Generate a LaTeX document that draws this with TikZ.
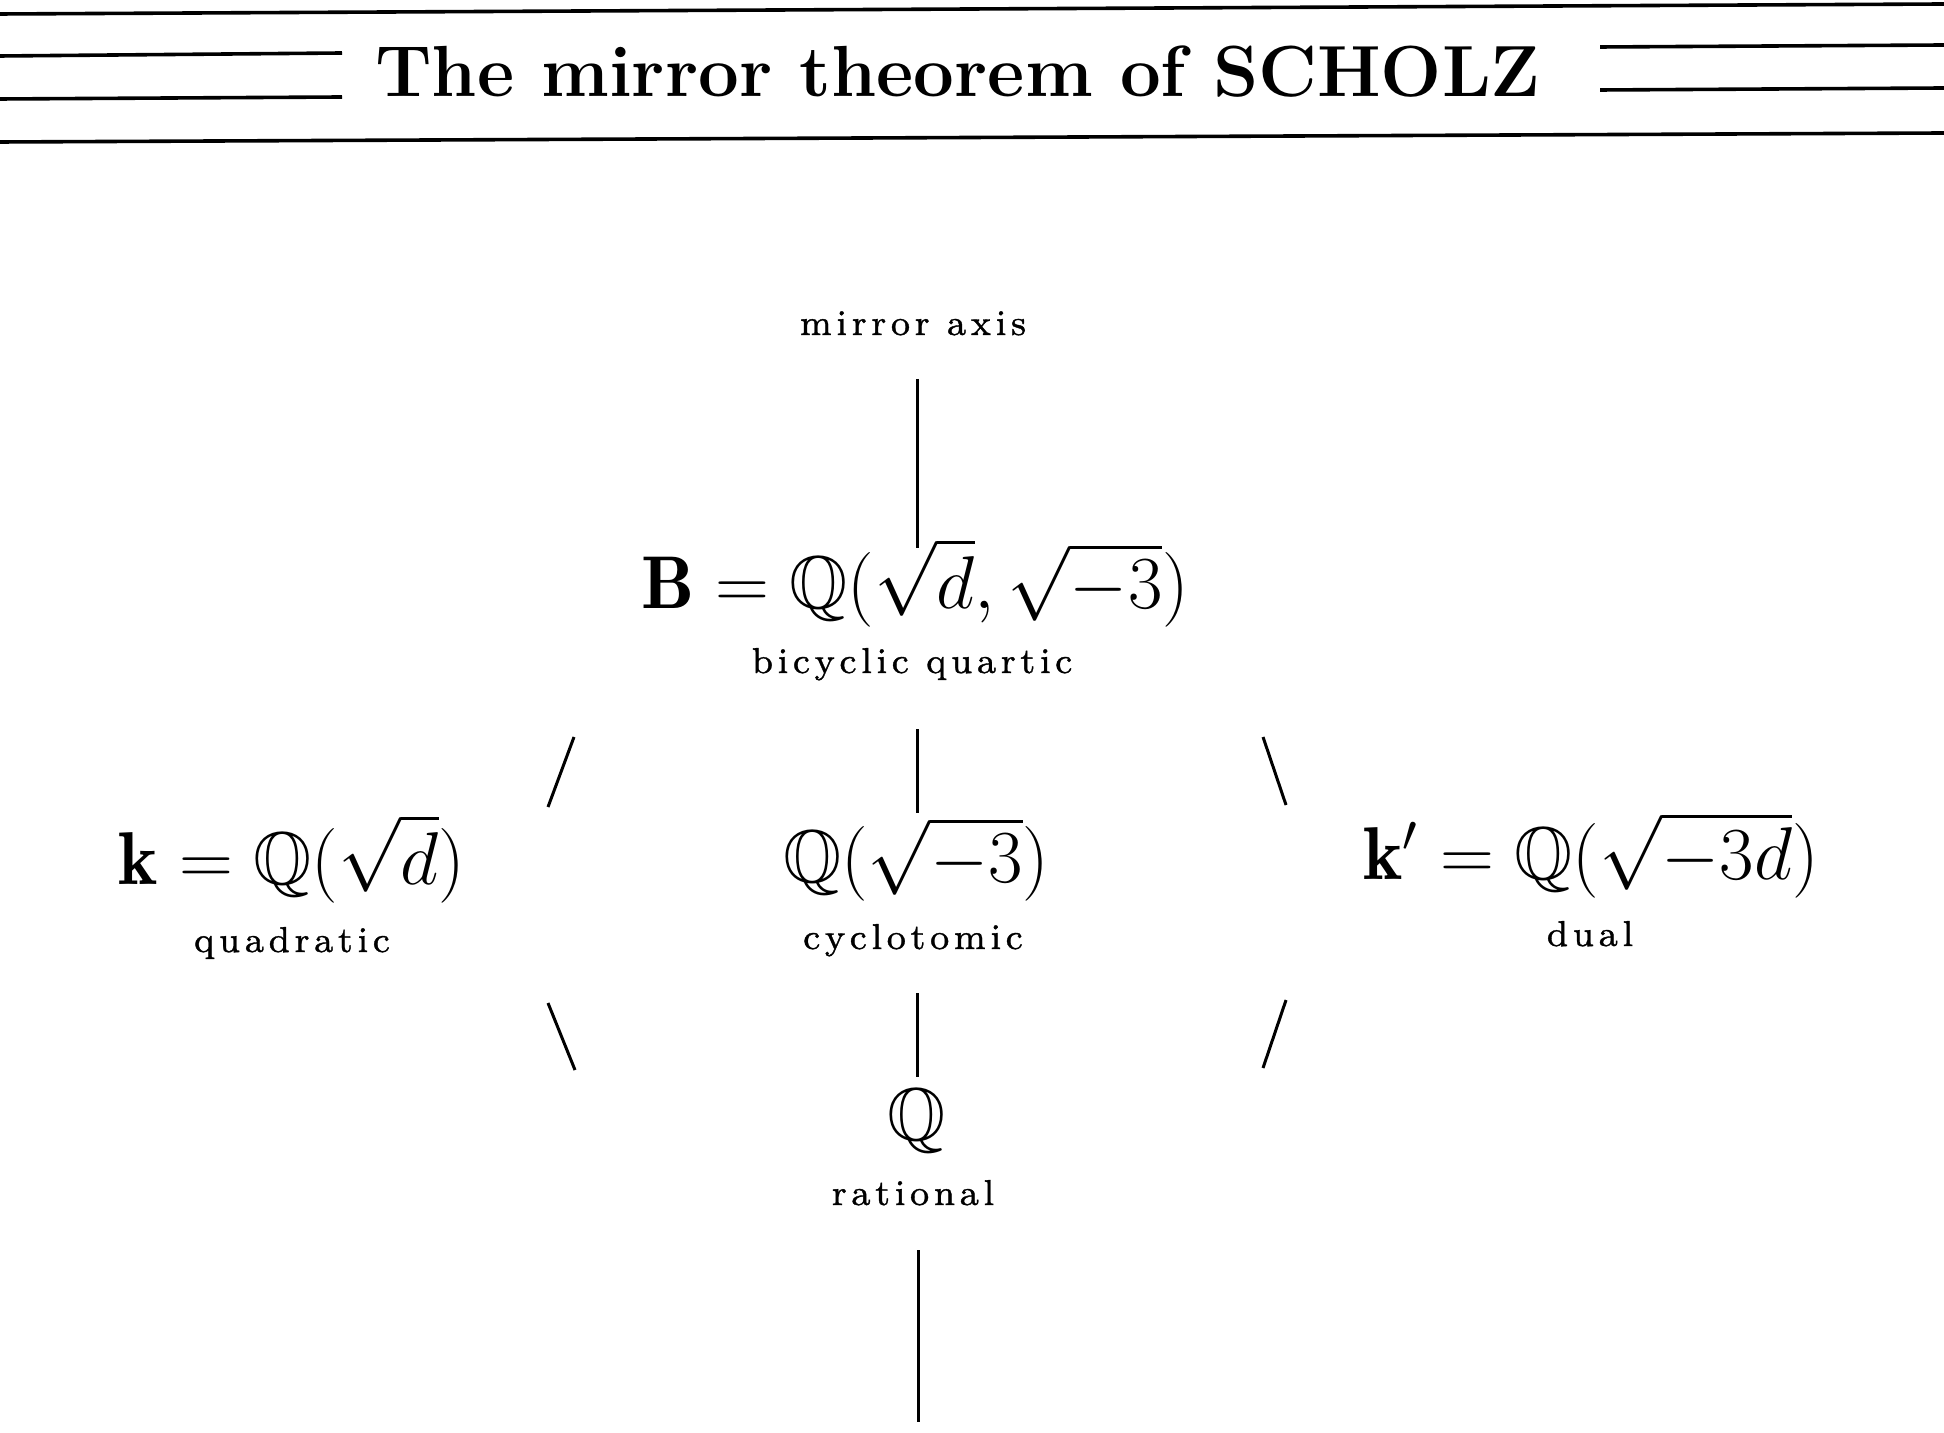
\RequirePackage{fix-cm}
\documentclass[tikz,border=0pt]{standalone}
\usepackage{amssymb}
\usepackage{fontspec}
\newfontfamily\lblfont{lmroman8-regular.otf}[LetterSpace=13,FakeBold=1]
\begin{document}
\begin{tikzpicture}[x=0.25pt,y=-0.25pt,
  rule/.style={line width=0.9pt},
  stroke/.style={line width=0.75pt},
  formula/.style={inner sep=0pt, anchor=base, font=\fontsize{18.7}{22}\selectfont},
  lbl/.style={inner sep=0pt, anchor=base, font=\lblfont\fontsize{9}{11}\selectfont},
  ttl/.style={inner sep=0pt, anchor=base, font=\fontsize{18.1}{20}\selectfont\bfseries}]
\useasboundingbox (0,0) rectangle (1944,1432);

% header rules
\coordinate (r1a) at (0,14);    \coordinate (r1b) at (1944,4);
\coordinate (r2a) at (0,142);   \coordinate (r2b) at (1944,133);
\coordinate (l1a) at (0,56);    \coordinate (l1b) at (342,53);
\coordinate (l2a) at (0,99);    \coordinate (l2b) at (342,97);
\coordinate (q1a) at (1600,47); \coordinate (q1b) at (1944,45);
\coordinate (q2a) at (1600,90); \coordinate (q2b) at (1944,88);
\draw[rule] (r1a) -- (r1b);
\draw[rule] (r2a) -- (r2b);
\draw[rule] (l1a) -- (l1b);
\draw[rule] (l2a) -- (l2b);
\draw[rule] (q1a) -- (q1b);
\draw[rule] (q2a) -- (q2b);

\node[ttl] (title) at (958,97) {The mirror theorem of SCHOLZ};

% nodes
\node[lbl] (axis) at (913,335) {mirror axis};
\node[formula] (B) at (915,608) {$\mathbf{B}=\mathbb{Q}(\sqrt{d},\sqrt{-3})$};
\node[lbl] (Blbl) at (912,673) {bicyclic quartic};
\node[formula] (k) at (292,884) {$\mathbf{k}=\mathbb{Q}(\sqrt{d})$};
\node[lbl] (klbl) at (292,952) {quadratic};
\node[formula] (C) at (916,882) {$\mathbb{Q}(\sqrt{-3})$};
\node[lbl] (Clbl) at (913,949) {cyclotomic};
\node[formula] (kp) at (1591,879) {$\mathbf{k}'=\mathbb{Q}(\sqrt{-3d})$};
\node[lbl] (kplbl) at (1590,946) {dual};
\node[formula] (Q) at (917,1140) {$\mathbb{Q}$};
\node[lbl] (Qlbl) at (913,1205) {rational};

% connector segments
\coordinate (a1) at (917,379);  \coordinate (a2) at (917,548);
\coordinate (b1) at (917,729);  \coordinate (b2) at (917,813);
\coordinate (c1) at (917,993);  \coordinate (c2) at (917,1077);
\coordinate (d1) at (918,1250); \coordinate (d2) at (918,1422);
\coordinate (s1) at (574,737);  \coordinate (s2) at (548,807);
\coordinate (s3) at (548,1003); \coordinate (s4) at (575,1070);
\coordinate (t1) at (1263,737); \coordinate (t2) at (1286,805);
\coordinate (t3) at (1286,1000);\coordinate (t4) at (1263,1068);
\draw[stroke] (a1) -- (a2);
\draw[stroke] (b1) -- (b2);
\draw[stroke] (c1) -- (c2);
\draw[stroke] (d1) -- (d2);
\draw[stroke] (s1) -- (s2);
\draw[stroke] (s3) -- (s4);
\draw[stroke] (t1) -- (t2);
\draw[stroke] (t3) -- (t4);
\end{tikzpicture}
\end{document}
